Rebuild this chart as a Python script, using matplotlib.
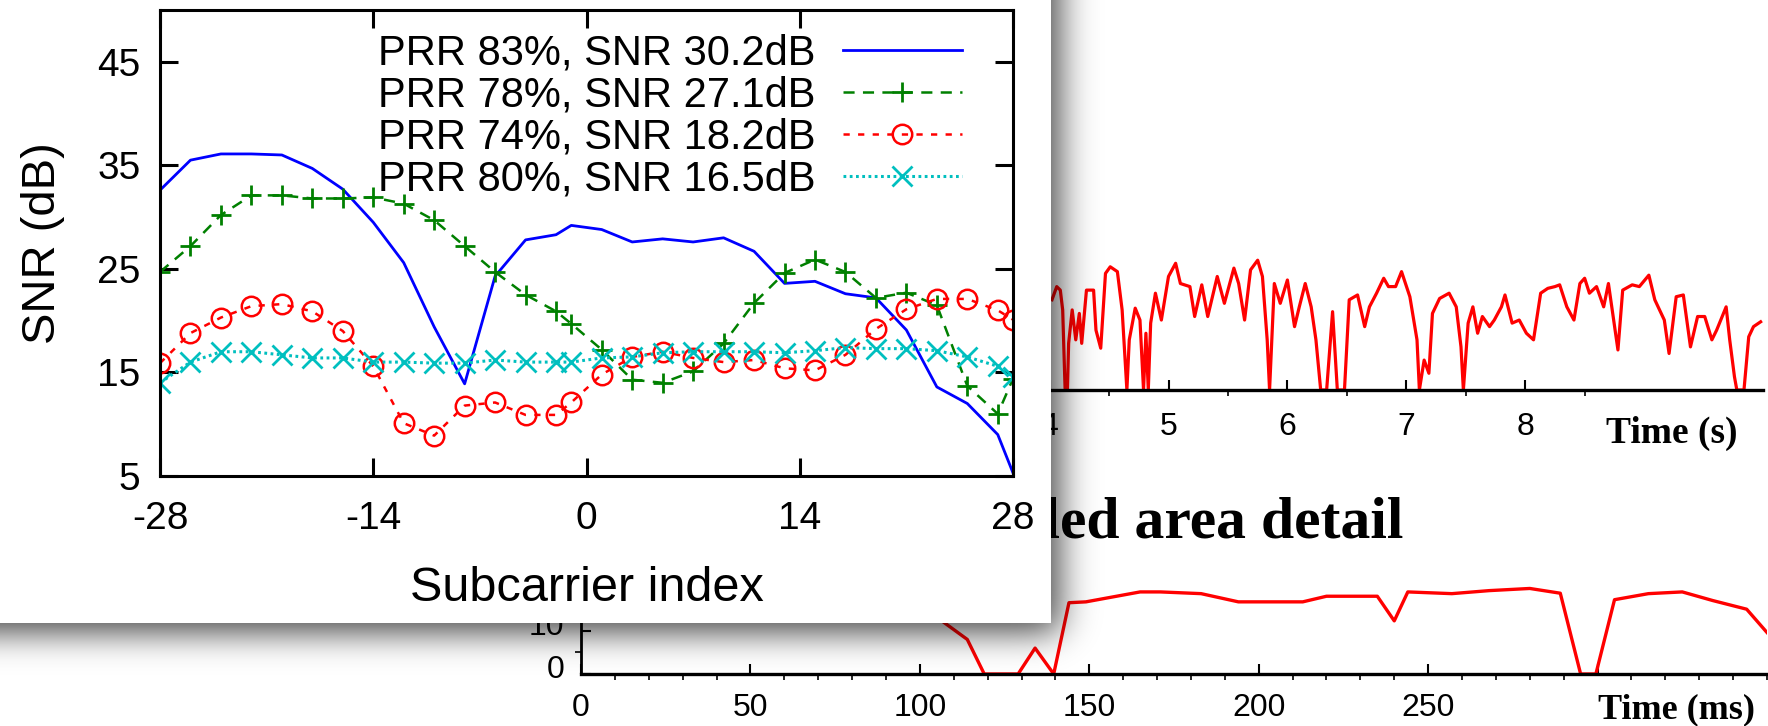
import math
import numpy as np
import matplotlib
matplotlib.use('Agg')
import matplotlib.pyplot as plt
import matplotlib.transforms as mtransforms
from matplotlib.patches import Rectangle

plt.rcParams['font.family'] = ['Liberation Sans', 'DejaVu Sans']
plt.rcParams['lines.scale_dashes'] = False
plt.rcParams['axes.unicode_minus'] = False

# foreground chart: SNR per subcarrier
subcarrier = [-28, -26, -24, -22, -20, -18, -16, -14, -12, -10, -8, -6, -4, -2, -1,
              1, 3, 5, 7, 9, 11, 13, 15, 17, 19, 21, 23, 25, 27, 28]
snr_83 = [32.6, 35.5, 36.1, 36.1, 36.0, 34.7, 32.7, 29.5, 25.6, 19.4, 13.9, 24.3, 27.8, 28.3, 29.2,
          28.8, 27.6, 27.9, 27.6, 28.0, 26.7, 23.6, 23.8, 22.6, 22.2, 19.1, 13.6, 12.0, 9.0, 5.3]
snr_78 = [24.7, 27.2, 30.2, 32.1, 32.1, 31.8, 31.8, 31.9, 31.3, 29.7, 27.2, 24.7, 22.5, 20.9, 19.7,
          17.2, 14.3, 14.0, 15.1, 17.8, 21.7, 24.6, 25.9, 24.7, 22.2, 22.7, 21.5, 13.7, 11.0, 14.4]
snr_74 = [15.9, 18.8, 20.3, 21.4, 21.6, 20.9, 19.0, 15.6, 10.1, 8.9, 11.8, 12.1, 10.9, 10.9, 12.1,
          14.8, 16.5, 17.0, 16.4, 16.0, 16.2, 15.4, 15.2, 16.7, 19.2, 21.1, 22.1, 22.1, 21.0, 20.1]
snr_80 = [14.0, 16.0, 17.0, 17.0, 16.7, 16.4, 16.4, 16.0, 16.0, 15.9, 15.9, 16.2, 16.0, 16.0, 16.0,
          16.4, 16.5, 16.9, 17.0, 17.0, 17.0, 16.9, 17.1, 17.4, 17.3, 17.3, 17.1, 16.5, 15.6, 14.6]
labels = ['PRR 83%, SNR 30.2dB', 'PRR 78%, SNR 27.1dB',
          'PRR 74%, SNR 18.2dB', 'PRR 80%, SNR 16.5dB']
x_ticks = [-28, -14, 0, 14, 28]
y_ticks = [5, 15, 25, 35, 45]

# background chart, top: SNR over time (s)
time_s = [4.02, 4.06, 4.09, 4.11, 4.13, 4.15, 4.16, 4.19, 4.22, 4.25, 4.27, 4.31, 4.37, 4.39, 4.43,
          4.47, 4.51, 4.57, 4.61, 4.65, 4.67, 4.72, 4.76, 4.79, 4.81, 4.83, 4.85, 4.89, 4.94, 5.00,
          5.06, 5.10, 5.18, 5.22, 5.28, 5.33, 5.41, 5.47, 5.55, 5.59, 5.64, 5.69, 5.75, 5.79, 5.83,
          5.85, 5.89, 5.94, 6.00, 6.06, 6.10, 6.15, 6.20, 6.24, 6.28, 6.33, 6.38, 6.42, 6.48, 6.52,
          6.59, 6.65, 6.69, 6.75, 6.81, 6.85, 6.91, 6.96, 7.03, 7.09, 7.11, 7.15, 7.19, 7.22, 7.28,
          7.36, 7.42, 7.46, 7.48, 7.52, 7.56, 7.60, 7.64, 7.70, 7.74, 7.80, 7.83, 7.89, 7.95, 8.01,
          8.07, 8.13, 8.19, 8.25, 8.29, 8.35, 8.41, 8.46, 8.50, 8.54, 8.60, 8.66, 8.70, 8.78, 8.82,
          8.90, 8.96, 9.04, 9.09, 9.17, 9.21, 9.27, 9.33, 9.39, 9.45, 9.51, 9.57, 9.61, 9.69, 9.72,
          9.76, 9.78, 9.84, 9.88, 9.92, 9.98]
snr_s = [20.5, 23.5, 22.7, 18.2, 0.4, 0.0, 10.6, 18.2, 11.4, 17.4, 10.6, 22.7, 22.7, 13.6, 9.5,
         26.5, 28.0, 26.9, 18.2, 0.0, 11.4, 18.6, 15.9, 0.0, 12.9, 0.0, 15.2, 22.0, 15.9, 25.8,
         28.8, 24.2, 23.5, 16.7, 23.9, 16.7, 25.8, 19.7, 27.7, 24.2, 15.9, 27.3, 29.5, 25.8, 11.4,
         0.0, 24.2, 19.7, 25.0, 14.4, 18.9, 24.2, 18.9, 11.4, 0.0, 0.0, 17.8, 0.0, 0.0, 20.5,
         21.6, 14.4, 18.9, 22.0, 25.4, 23.5, 23.5, 26.9, 21.2, 11.4, 0.0, 6.8, 3.8, 17.4, 20.8,
         22.0, 18.9, 9.8, 0.0, 15.2, 18.9, 12.9, 16.7, 14.4, 15.9, 18.9, 21.6, 15.2, 15.9, 12.9,
         11.4, 22.0, 23.1, 23.5, 23.9, 18.9, 15.9, 24.2, 25.4, 22.0, 23.5, 18.9, 24.2, 9.1, 22.7,
         23.9, 23.5, 26.1, 20.5, 15.9, 8.3, 21.2, 21.6, 9.8, 16.7, 16.7, 11.4, 13.6, 18.9, 11.4,
         3.0, 0.0, 0.0, 12.1, 14.4, 15.5]

# background chart, bottom: detail over time (ms)
time_ms = [107, 114, 119, 129, 134, 139.5, 144, 149, 165, 171, 183, 194, 213, 220, 235,
           240, 244, 257, 268, 280, 289, 295, 299.5, 305, 315, 325, 334, 344, 350]
snr_ms = [12.0, 8.0, 0.0, 0.0, 6.0, 0.0, 16.5, 16.7, 19.0, 19.0, 18.6, 16.7, 16.7, 18.0, 18.0,
          12.3, 19.0, 18.6, 19.3, 19.8, 18.7, 0.0, 0.0, 17.2, 18.6, 19.0, 17.0, 15.0, 9.6]
ms_ticks = [0, 50, 100, 150, 200, 250, 300]
ms_labels = ['0', '50', '100', '150', '200', '250', '']

W, H = 1768, 726
fig = plt.figure(figsize=(W / 100, H / 100), dpi=100)


def px_axes(x0, y0, x1, y1):
    return fig.add_axes([x0 / W, 1 - y1 / H, (x1 - x0) / W, (y1 - y0) / H])


def bare(a):
    for s in ['top', 'right']:
        a.spines[s].set_visible(False)
    a.spines['bottom'].set_linewidth(2.4)
    a.spines['left'].set_linewidth(2.0)
    a.tick_params(direction='in', labelsize=23, width=1.5, colors='black')
    a.tick_params(which='major', length=7)
    a.tick_params(which='minor', length=4, width=1.2)
    a.patch.set_alpha(0)


# top background plot
bg1 = px_axes(574, 236, 1763, 390)
bg1.set_zorder(0)
bg1.plot(time_s, snr_s, color='#ff0000', lw=2.3)
bg1.set_xlim(0, 10)
bg1.set_ylim(0, 35)
bare(bg1)
bg1.set_xticks(range(0, 9))
bg1.set_xticks([i + 0.5 for i in range(0, 9)], minor=True)
bg1.set_yticks([])
bg1.tick_params(axis='x', pad=16)
fig.text(1737 / W, 1 - 433 / H, 'Time (s)', ha='right', va='center', fontsize=27,
         fontweight='bold', family='Liberation Serif', zorder=0.5)

# bottom background plot
bg2 = px_axes(581, 566, 1767, 674)
bg2.set_zorder(0)
bg2.plot(time_ms, snr_ms, color='#ff0000', lw=2.4)
bg2.set_xlim(0, 350)
bg2.set_ylim(0, 25)
bare(bg2)
bg2.set_xticks(ms_ticks, ms_labels)
bg2.set_xticks(range(0, 351, 10), minor=True)
bg2.set_yticks([0, 10, 20])
bg2.set_yticks([5, 15], minor=True)
bg2.tick_params(axis='x', pad=14)
bg2.tick_params(axis='y', pad=12)
# y labels of this plot sit a little above their ticks
lift = mtransforms.ScaledTranslation(0, 0.07, fig.dpi_scale_trans)
for lab in bg2.get_yticklabels():
    lab.set_transform(lab.get_transform() + lift)
fig.text(1755 / W, 1 - 710 / H, 'Time (ms)', ha='right', va='center', fontsize=26,
         fontweight='bold', family='Liberation Serif', zorder=0.5)

fig.text(1403 / W, 1 - 537 / H, 'Circled area detail', ha='right', va='baseline', fontsize=43,
         fontweight='bold', family='Liberation Serif', zorder=0.5)

# drop shadow and white card
sh = fig.add_axes([0, 0, 1, 1])
sh.set_zorder(1)
sh.axis('off')
erf = np.vectorize(math.erf)
xs = np.arange(W) + 0.5
ys = np.arange(H) + 0.5
fx = 0.5 * (1 - erf((xs - 1059) / (18 * math.sqrt(2))))
fy = 0.5 * (1 - erf((ys - 632) / (17 * math.sqrt(2))))
rgba = np.zeros((H, W, 4))
rgba[..., 3] = 0.74 * fy[:, None] * fx[None, :]
sh.imshow(rgba, extent=(0, W, H, 0), interpolation='nearest', aspect='auto')
sh.add_patch(Rectangle((0, 0), 1051, 623, facecolor='white', edgecolor='none'))
sh.set_xlim(0, W)
sh.set_ylim(H, 0)

# foreground plot
ax = px_axes(160, 10, 1013, 476)
ax.set_zorder(2)
ax.plot(subcarrier, snr_83, color='#0000ff', lw=2.0, label=labels[0])
ax.plot(subcarrier, snr_78, color='#008000', lw=1.8, dashes=[8, 6], marker='+',
        ms=15, mew=2.0, label=labels[1])
ax.plot(subcarrier, snr_74, color='#ff0000', lw=1.8, dashes=[4.5, 6], marker='o',
        ms=14, mew=1.8, mfc='none', label=labels[2])
ax.plot(subcarrier, snr_80, color='#00bfbf', lw=2.2, dashes=[2, 2.5], marker='x',
        ms=14, mew=2.0, label=labels[3])
ax.set_xlim(-28, 28)
ax.set_ylim(5, 50)
ax.set_xticks(x_ticks)
ax.set_yticks(y_ticks)
ax.tick_params(direction='in', length=13, width=2.2, labelsize=28, top=True, right=True)
ax.tick_params(axis='x', pad=18)
ax.tick_params(axis='y', pad=14)
for s in ax.spines.values():
    s.set_linewidth(2.2)
ax.set_xlabel('Subcarrier index', fontsize=35)
ax.set_ylabel('SNR (dB)', fontsize=34)
ax.xaxis.set_label_coords(0.5, -0.194)
ax.yaxis.set_label_coords(-0.111, 0.5)
ax.legend(loc='upper right', bbox_to_anchor=(0.940, 0.950), frameon=False, fontsize=30,
          markerfirst=False, numpoints=1, handlelength=2.86, handletextpad=0.64,
          labelspacing=0.05, borderpad=0, borderaxespad=0)

fig.savefig('out.png', dpi=100)
